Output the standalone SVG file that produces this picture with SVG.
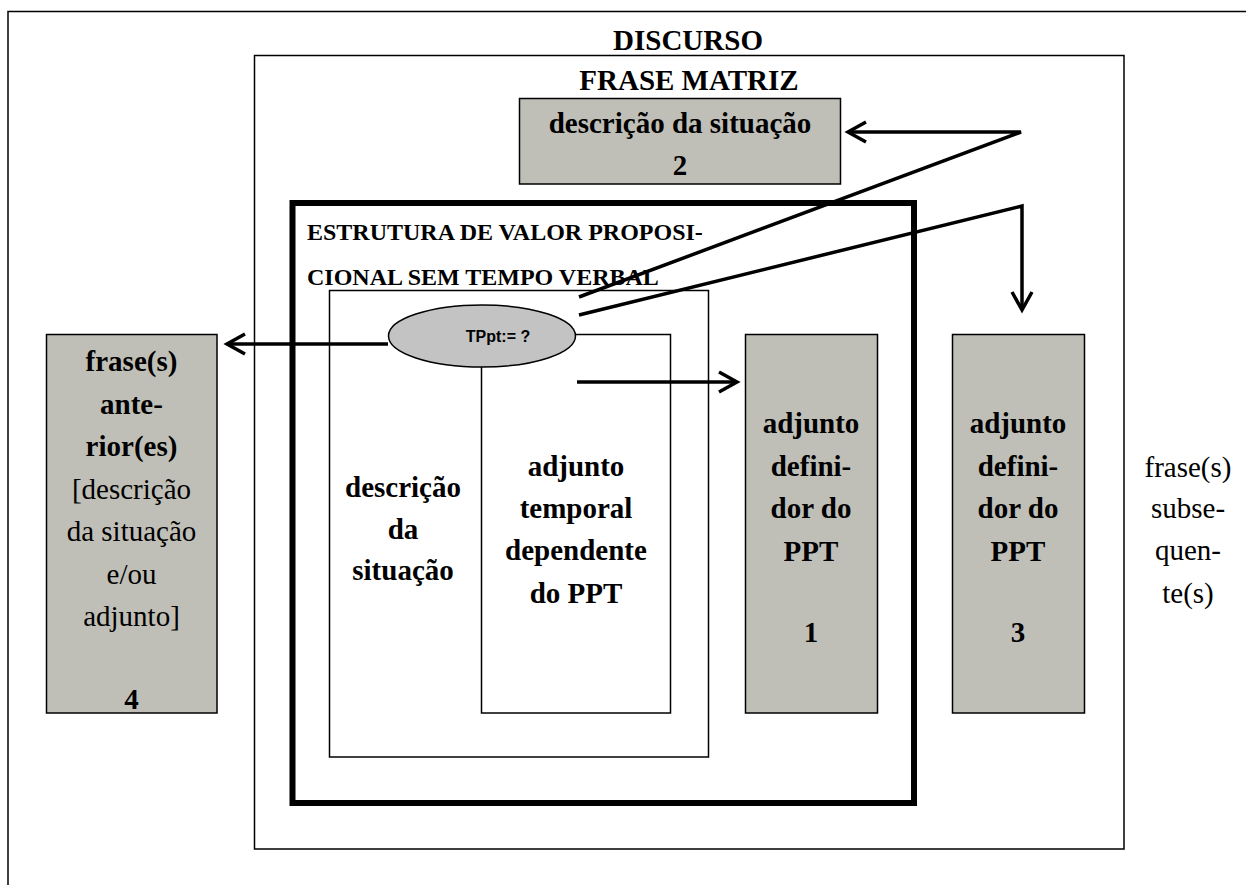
<svg xmlns="http://www.w3.org/2000/svg" width="1246" height="885" viewBox="0 0 1246 885">
<style>
.frame{fill:none;stroke:#000;stroke-width:1.5}
.wbox{fill:#fff;stroke:#000;stroke-width:1.5}
.gbox{fill:#bfbfb7;stroke:#000;stroke-width:1.5}
.thick{fill:none;stroke:#000;stroke-width:6}
.conn{fill:none;stroke:#000;stroke-width:3.5;stroke-linejoin:miter}
.b{font-family:"Liberation Serif","Times New Roman",serif;font-weight:bold;font-size:29px;fill:#000;text-anchor:middle}
.r{font-family:"Liberation Serif","Times New Roman",serif;font-size:29px;fill:#000;text-anchor:middle}
.est{font-family:"Liberation Serif","Times New Roman",serif;font-weight:bold;font-size:24px;fill:#000}
.tp{font-family:"Liberation Sans",Arial,sans-serif;font-weight:bold;font-size:16px;fill:#000;text-anchor:middle}
</style>
<defs>
<marker id="arr" markerUnits="userSpaceOnUse" markerWidth="40" markerHeight="40" viewBox="-30 -20 40 40" refX="0" refY="0" orient="auto">
<path d="M-18,-10 L0,0 L-18,10" fill="none" stroke="#000" stroke-width="3.5"/>
</marker>
</defs>
<rect width="1246" height="885" fill="#fff"/>
<g id="discurso">
<rect class="frame" x="8" y="11.5" width="1300" height="1000"/>
<text class="b" x="688" y="50">DISCURSO</text>
</g>
<g id="frase-matriz">
<rect class="frame" x="254.5" y="55.5" width="869.5" height="793.5"/>
<text class="b" x="689" y="90">FRASE MATRIZ</text>
</g>
<g id="descricao-2">
<rect class="gbox" x="519.5" y="98.5" width="321" height="85.5"/>
<text class="b" x="680" y="133">descrição da situação</text>
<text class="b" x="680" y="175">2</text>
</g>
<g id="estrutura">
<rect class="thick" x="292.5" y="203" width="621.5" height="600"/>
<text class="est" x="307" y="240">ESTRUTURA DE VALOR PROPOSI-</text>
<text class="est" x="307" y="285">CIONAL SEM TEMPO VERBAL</text>
</g>
<g id="descricao-situacao">
<rect class="wbox" x="329.5" y="290.5" width="379" height="466.5"/>
<text class="b" x="403" y="497">descrição</text>
<text class="b" x="403" y="539">da</text>
<text class="b" x="403" y="580">situação</text>
</g>
<g id="adjunto-temporal">
<rect class="wbox" x="481.5" y="334.5" width="189" height="378.5"/>
<text class="b" x="576" y="476">adjunto</text>
<text class="b" x="576" y="518">temporal</text>
<text class="b" x="576" y="560">dependente</text>
<text class="b" x="576" y="603">do PPT</text>
</g>
<g id="tppt">
<ellipse cx="482" cy="336" rx="93.5" ry="31" fill="#c3c3c3" stroke="#000" stroke-width="1.5"/>
<text class="tp" x="498" y="342">TPpt:= ?</text>
</g>
<g id="frases-anteriores">
<rect class="gbox" x="46.5" y="334.5" width="170.5" height="378.5"/>
<text class="b" x="131.5" y="371">frase(s)</text>
<text class="b" x="131.5" y="414">ante-</text>
<text class="b" x="131.5" y="456">rior(es)</text>
<text class="r" x="131.5" y="499">[descrição</text>
<text class="r" x="131.5" y="541">da situação</text>
<text class="r" x="131.5" y="584">e/ou</text>
<text class="r" x="131.5" y="626">adjunto]</text>
<text class="b" x="131.5" y="709">4</text>
</g>
<g id="adjunto-1">
<rect class="gbox" x="745.5" y="334.5" width="132" height="378.5"/>
<text class="b" x="811" y="433">adjunto</text>
<text class="b" x="811" y="476">defini-</text>
<text class="b" x="811" y="518">dor do</text>
<text class="b" x="811" y="561">PPT</text>
<text class="b" x="811" y="642">1</text>
</g>
<g id="adjunto-3">
<rect class="gbox" x="952.5" y="334.5" width="132" height="378.5"/>
<text class="b" x="1018" y="433">adjunto</text>
<text class="b" x="1018" y="476">defini-</text>
<text class="b" x="1018" y="518">dor do</text>
<text class="b" x="1018" y="561">PPT</text>
<text class="b" x="1018" y="642">3</text>
</g>
<g id="frases-subsequentes">
<text class="r" x="1188" y="477">frase(s)</text>
<text class="r" x="1188" y="518">subse-</text>
<text class="r" x="1188" y="560">quen-</text>
<text class="r" x="1188" y="603">te(s)</text>
</g>
<g id="connectors">
<path class="conn" d="M388,344 L227,344" marker-end="url(#arr)"/>
<path class="conn" d="M577,382 L737,382" marker-end="url(#arr)"/>
<path class="conn" d="M579,297 L1021,132 L848,132" marker-end="url(#arr)"/>
<path class="conn" d="M579,315 L1022,206 L1022,310" marker-end="url(#arr)"/>
</g>
</svg>
